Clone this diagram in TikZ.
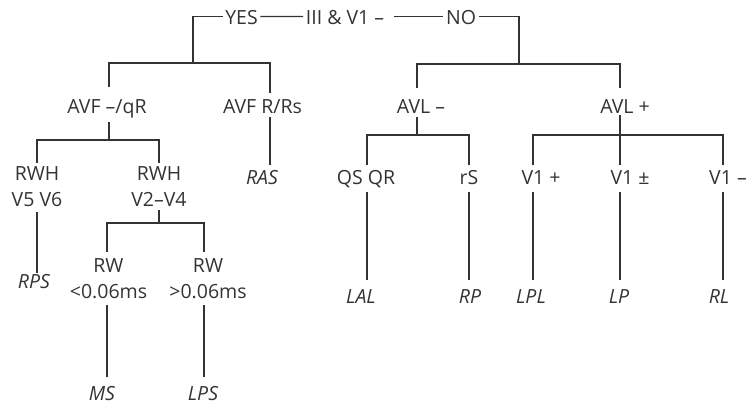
\documentclass[tikz,border=0pt]{standalone}
\usepackage{fontspec}
\setmainfont{Open Sans}
\definecolor{ink}{HTML}{333333}
\begin{document}
\begin{tikzpicture}[x=1pt,y=-1pt,
  lbl/.style={inner sep=0pt,text=ink,anchor=base,font=\fontsize{19.5}{26}\selectfont},
  toplbl/.style={lbl,inner xsep=2.5pt},
  lbl2/.style={inner sep=0pt,text=ink,anchor=north,align=center,font=\fontsize{19.5}{26}\selectfont},
  leaf/.style={lbl,font=\fontsize{19.5}{26}\selectfont\itshape},
  conn/.style={draw=ink,line width=1.2pt}]
\useasboundingbox (0,0) rectangle (749,406);
% top row
\node[toplbl] (yes) at (241.5,25) {YES};
\node[toplbl] (root) at (345,25) {III \& V1 –};
\node[toplbl] (no) at (461,25) {NO};
% level 2
\node[lbl] (avfq) at (107,114) {AVF –/qR};
\node[lbl] (avfr) at (262.5,114) {AVF R/Rs};
\node[lbl] (avlm) at (421,114) {AVL –};
\node[lbl] (avlp) at (625,114) {AVL +};
% level 3
\node[lbl2] (rwh1) at (37,166) {RWH\\V5 V6};
\node[lbl2] (rwh2) at (159,166) {RWH\\V2–V4};
\node[leaf] (ras) at (262,185) {RAS};
\node[lbl] (qs) at (366,184.5) {QS QR};
\node[lbl] (rs) at (469,184.5) {rS};
\node[lbl] (v1p) at (541,184.5) {V1 +};
\node[lbl] (v1pm) at (630,184.5) {V1 ±};
\node[lbl] (v1m) at (728,184.5) {V1 –};
% level 4
\node[leaf] (rps) at (34,288) {RPS};
\node[lbl2] (rw1) at (108.5,258) {RW\\<0.06ms};
\node[lbl2] (rw2) at (208,258) {RW\\>0.06ms};
\node[leaf] (lal) at (361,303) {LAL};
\node[leaf] (rp) at (470,303) {RP};
\node[leaf] (lpl) at (531,303) {LPL};
\node[leaf] (lp) at (619,303) {LP};
\node[leaf] (rl) at (719,303) {RL};
% level 5
\node[leaf] (ms) at (102,400) {MS};
\node[leaf] (lps) at (203,400) {LPS};
% connector points
\coordinate (jyes) at (193,63);
\coordinate (jno) at (519,64);
\coordinate (avfqT) at (109,87);
\coordinate (avfrT) at (270,93);
\coordinate (avlmT) at (417,88);
\coordinate (avlpT) at (620,88);
\coordinate (avfqB) at (109,122);
\coordinate (h1) at (109,140);
\coordinate (rwh1T) at (37,163);
\coordinate (rwh2T) at (159,163);
\coordinate (avfrB) at (270,117);
\coordinate (rasT) at (270,165);
\coordinate (avlmB) at (417,117);
\coordinate (h2) at (417,135);
\coordinate (qsT) at (367,165);
\coordinate (rsT) at (469,165);
\coordinate (avlpB) at (620,115);
\coordinate (v1pT) at (533,165);
\coordinate (v1pmT) at (620,165);
\coordinate (v1mT) at (723,165);
\coordinate (rwh1B) at (37,212);
\coordinate (rpsT) at (37,273);
\coordinate (rwh2B) at (159,210);
\coordinate (h3) at (159,223);
\coordinate (rw1T) at (107,252);
\coordinate (rw2T) at (204,252);
\coordinate (rw1B) at (107,305);
\coordinate (msT) at (107,377);
\coordinate (rw2B) at (204,305);
\coordinate (lpsT) at (204,377);
\coordinate (qsB) at (367,192);
\coordinate (lalT) at (367,280);
\coordinate (rsB) at (469,192);
\coordinate (rpT) at (469,280);
\coordinate (v1pB) at (533,192);
\coordinate (lplT) at (533,280);
\coordinate (v1pmB) at (620,192);
\coordinate (lpT) at (620,280);
\coordinate (v1mB) at (723,192);
\coordinate (rlT) at (723,280);
% connectors
\draw[conn] ([yshift=1.5pt]yes.west) -| (jyes);
\draw[conn] ([yshift=1.5pt]yes.east) -- ([yshift=1.5pt]root.west);
\draw[conn] ([xshift=7pt,yshift=1.5pt]root.east) -- ([yshift=1.5pt]no.west);
\draw[conn] ([yshift=1.5pt]no.east) -| (jno);
\draw[conn] (avfqT) |- (jyes) -| (avfrT);
\draw[conn] (avlmT) |- (jno) -| (avlpT);
\draw[conn] (avfqB) -- (h1);
\draw[conn] (rwh1T) |- (h1) -| (rwh2T);
\draw[conn] (avfrB) -- (rasT);
\draw[conn] (avlmB) -- (h2);
\draw[conn] (qsT) |- (h2) -| (rsT);
\draw[conn] (avlpB) -- (v1pmT);
\draw[conn] (v1pT) |- (avlpB |- h2) -| (v1mT);
\draw[conn] (rwh1B) -- (rpsT);
\draw[conn] (rwh2B) -- (h3);
\draw[conn] (rw1T) |- (h3) -| (rw2T);
\draw[conn] (rw1B) -- (msT);
\draw[conn] (rw2B) -- (lpsT);
\draw[conn] (qsB) -- (lalT);
\draw[conn] (rsB) -- (rpT);
\draw[conn] (v1pB) -- (lplT);
\draw[conn] (v1pmB) -- (lpT);
\draw[conn] (v1mB) -- (rlT);
\end{tikzpicture}
\end{document}
